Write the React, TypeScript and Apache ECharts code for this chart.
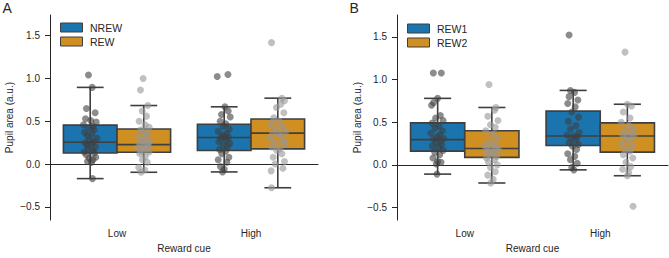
import React, { useEffect, useRef } from "react";
import * as echarts from "echarts";

// Reward cue levels on the x axis and the y tick values
const CATEGORIES = ["Low", "High"];
const Y_TICKS = [-0.5, 0, 0.5, 1, 1.5];

// Box statistics per cue level: [whisker low, Q1, median, Q3, whisker high]
const nrewBox = [
  [-0.17, 0.13, 0.254, 0.455, 0.896],
  [-0.092, 0.158, 0.31, 0.465, 0.669],
];
const rewBox = [
  [-0.096, 0.138, 0.227, 0.41, 0.684],
  [-0.277, 0.177, 0.361, 0.527, 0.77],
];
const rew1Box = [
  [-0.108, 0.161, 0.296, 0.492, 0.78],
  [-0.058, 0.227, 0.338, 0.63, 0.873],
];
const rew2Box = [
  [-0.212, 0.088, 0.192, 0.4, 0.673],
  [-0.127, 0.15, 0.338, 0.492, 0.711],
];

// Individual subjects: [strip jitter (fraction of band), pupil area]
const nrewLow = [
  [-0.013, 1.04], [0.015, 0.896], [-0.028, 0.65], [0.037, 0.6], [-0.035, 0.53], [0.004, 0.51],
  [0.045, 0.49], [-0.05, 0.46], [0.02, 0.44], [-0.01, 0.42], [0.03, 0.4], [-0.042, 0.37],
  [0.012, 0.35], [-0.02, 0.33], [0.05, 0.3], [-0.006, 0.28], [0.026, 0.26], [-0.038, 0.25],
  [0.008, 0.24], [-0.024, 0.22], [0.04, 0.2], [-0.015, 0.18], [0.018, 0.16], [-0.045, 0.14],
  [0.03, 0.13], [-0.03, 0.11], [0.042, 0.08], [-0.008, 0.07], [0.02, 0.05], [-0.02, 0.03],
  [0.01, 0.02], [0.017, -0.17],
];
const rewLow = [
  [-0.005, 1.0], [-0.025, 0.865], [0.03, 0.684], [-0.012, 0.62], [0.02, 0.56], [-0.035, 0.5],
  [0.01, 0.46], [0.04, 0.43], [-0.022, 0.4], [0.005, 0.38], [0.028, 0.35], [-0.04, 0.32],
  [0.015, 0.3], [-0.01, 0.28], [0.045, 0.26], [-0.03, 0.24], [0.022, 0.23], [-0.002, 0.22],
  [0.035, 0.2], [-0.045, 0.19], [0.01, 0.17], [-0.018, 0.15], [0.04, 0.14], [-0.03, 0.12],
  [0.012, 0.09], [-0.01, 0.05], [0.026, 0.02], [-0.038, -0.04], [0.008, -0.07], [-0.02, -0.096],
];
const nrewHigh = [
  [-0.052, 1.023], [0.028, 1.046], [0.005, 0.669], [0.03, 0.62], [-0.02, 0.58], [0.045, 0.55],
  [-0.03, 0.5], [0.012, 0.47], [-0.008, 0.44], [0.038, 0.41], [-0.045, 0.38], [0.02, 0.36],
  [-0.015, 0.34], [0.002, 0.32], [0.032, 0.31], [-0.026, 0.3], [0.015, 0.28], [-0.04, 0.26],
  [0.042, 0.24], [-0.005, 0.22], [0.025, 0.2], [-0.035, 0.17], [0.01, 0.15], [-0.018, 0.12],
  [0.035, 0.08], [-0.045, 0.05], [0.02, 0.02], [-0.028, -0.03], [0.0, -0.06], [-0.012, -0.092],
];
const rewHigh = [
  [-0.047, 1.419], [0.03, 0.77], [0.05, 0.74], [0.022, 0.7], [-0.01, 0.66], [0.045, 0.6],
  [-0.03, 0.54], [0.01, 0.5], [-0.055, 0.47], [0.035, 0.44], [-0.015, 0.41], [0.06, 0.38],
  [-0.04, 0.36], [0.005, 0.35], [0.025, 0.33], [-0.06, 0.3], [0.042, 0.27], [-0.022, 0.25],
  [0.055, 0.24], [-0.045, 0.2], [0.015, 0.18], [-0.008, 0.16], [0.03, 0.12], [-0.035, 0.08],
  [0.05, 0.03], [-0.02, 0.0], [0.038, -0.05], [-0.05, -0.08], [-0.047, -0.277],
];
const rew1Low = [
  [-0.032, 1.077], [0.027, 1.077], [0.0, 0.78], [-0.03, 0.73], [-0.045, 0.7], [0.02, 0.58],
  [-0.015, 0.55], [0.04, 0.52], [-0.04, 0.49], [0.01, 0.46], [-0.02, 0.43], [0.035, 0.4],
  [-0.05, 0.37], [0.015, 0.35], [-0.005, 0.33], [0.045, 0.31], [-0.03, 0.3], [0.02, 0.28],
  [-0.012, 0.26], [0.03, 0.24], [-0.04, 0.22], [0.008, 0.2], [0.04, 0.17], [-0.022, 0.15],
  [0.015, 0.12], [-0.035, 0.08], [0.0, 0.04], [0.025, 0.03], [-0.01, 0.01], [-0.005, -0.108],
];
const rew2Low = [
  [-0.021, 0.942], [0.03, 0.673], [0.02, 0.64], [-0.03, 0.57], [0.045, 0.52], [-0.01, 0.47],
  [0.025, 0.44], [-0.045, 0.4], [0.01, 0.36], [0.04, 0.31], [-0.02, 0.27], [0.015, 0.24],
  [-0.05, 0.22], [0.03, 0.2], [-0.005, 0.19], [0.05, 0.18], [-0.035, 0.16], [0.008, 0.14],
  [-0.018, 0.12], [0.035, 0.1], [-0.04, 0.08], [0.02, 0.06], [-0.025, 0.03], [0.04, 0.0],
  [-0.01, -0.03], [0.025, -0.08], [-0.03, -0.12], [0.01, -0.17], [-0.008, -0.212],
];
const rew1High = [
  [-0.03, 1.523], [-0.02, 0.873], [0.01, 0.85], [-0.03, 0.8], [0.035, 0.76], [-0.04, 0.72],
  [0.015, 0.68], [-0.01, 0.62], [0.04, 0.56], [-0.035, 0.51], [0.02, 0.46], [-0.02, 0.42],
  [0.045, 0.38], [-0.045, 0.35], [0.005, 0.34], [0.03, 0.33], [-0.015, 0.31], [0.02, 0.29],
  [-0.03, 0.26], [0.04, 0.24], [-0.005, 0.22], [0.025, 0.18], [-0.04, 0.13], [0.012, 0.1],
  [-0.02, 0.06], [0.03, 0.02], [-0.01, -0.03], [0.005, -0.058],
];
const rew2High = [
  [-0.017, 1.322], [0.0, 0.711], [0.03, 0.69], [-0.03, 0.62], [0.02, 0.55], [-0.045, 0.5],
  [0.01, 0.46], [0.045, 0.42], [-0.02, 0.39], [0.03, 0.37], [-0.035, 0.35], [0.05, 0.34],
  [-0.005, 0.32], [0.015, 0.29], [-0.04, 0.25], [0.035, 0.22], [-0.015, 0.18], [0.02, 0.16],
  [-0.03, 0.12], [0.04, 0.08], [-0.01, 0.03], [0.025, -0.02], [-0.035, -0.05], [0.01, -0.09],
  [0.0, -0.127], [0.042, -0.485],
];

const FONT = "'Liberation Sans', Arial, Helvetica, sans-serif";
const INK = "#262626";
const EDGE = "#3f3f3f";
const BLUE = "#1b74ad";
const ORANGE = "#cf9021";
const DOT_DARK = "rgba(64,64,64,0.6)";
const DOT_LIGHT = "rgba(150,150,150,0.6)";

const boxRenderer = (offset: number) => (params: any, api: any) => {
  const cat = api.value(0);
  const band = api.size([1, 0])[0];
  const cx = api.coord([cat, 0])[0] + offset * band;
  const half = 0.2 * band;
  const cap = 0.1 * band;
  const y = (i: number) => api.coord([cat, api.value(i)])[1];
  const yMin = y(1), yQ1 = y(2), yMed = y(3), yQ3 = y(4), yMax = y(5);
  const lineStyle = { stroke: EDGE, lineWidth: 1.6 };
  return {
    type: "group",
    children: [
      { type: "line", shape: { x1: cx, y1: yQ3, x2: cx, y2: yMax }, style: lineStyle },
      { type: "line", shape: { x1: cx, y1: yQ1, x2: cx, y2: yMin }, style: lineStyle },
      { type: "line", shape: { x1: cx - cap, y1: yMax, x2: cx + cap, y2: yMax }, style: lineStyle },
      { type: "line", shape: { x1: cx - cap, y1: yMin, x2: cx + cap, y2: yMin }, style: lineStyle },
      {
        type: "rect",
        shape: { x: cx - half, y: yQ3, width: 2 * half, height: yQ1 - yQ3 },
        style: { fill: api.visual("color"), stroke: EDGE, lineWidth: 1.6 },
      },
      { type: "line", shape: { x1: cx - half, y1: yMed, x2: cx + half, y2: yMed }, style: lineStyle },
    ],
  };
};

const dotRenderer = (offset: number, fill: string) => (params: any, api: any) => {
  const cat = api.value(0);
  const band = api.size([1, 0])[0];
  const p = api.coord([cat, api.value(2)]);
  return {
    type: "circle",
    shape: { cx: p[0] + (offset + api.value(1)) * band, cy: p[1], r: 3.5 },
    style: { fill },
  };
};

const boxData = (stats: number[][]) => stats.map((s, i) => [i, ...s]);
const dotData = (low: number[][], high: number[][]) => [
  ...low.map((d) => [0, d[0], d[1]]),
  ...high.map((d) => [1, d[0], d[1]]),
];

const xAxisFor = (gridIndex: number) => ({
  type: "category",
  gridIndex,
  data: CATEGORIES,
  boundaryGap: true,
  name: "Reward cue",
  nameLocation: "middle",
  nameGap: 22,
  nameTextStyle: { fontSize: 10, color: INK, fontFamily: FONT },
  axisLine: { lineStyle: { color: INK, width: 1 } },
  axisTick: { alignWithLabel: true, length: 5, lineStyle: { color: INK } },
  axisLabel: { fontSize: 10, color: INK, fontFamily: FONT, margin: 8 },
  splitLine: { show: false },
});

const yAxisFor = (gridIndex: number, min: number, max: number, nameGap: number) => ({
  type: "value",
  gridIndex,
  min,
  max,
  name: "Pupil area (a.u.)",
  nameLocation: "middle",
  nameRotate: 90,
  nameGap,
  nameTextStyle: { fontSize: 10, color: INK, fontFamily: FONT },
  axisLine: { show: true, lineStyle: { color: INK, width: 1 } },
  axisTick: { show: true, length: 5, lineStyle: { color: INK }, customValues: Y_TICKS },
  axisLabel: {
    fontSize: 10,
    color: INK,
    fontFamily: FONT,
    margin: 10,
    customValues: Y_TICKS,
    formatter: (v: number) => v.toFixed(1).replace("-", "\u2212"),
  },
  splitLine: { show: false },
});

const legendFor = (names: string[], left: number, top: number) => ({
  data: names,
  left,
  top,
  padding: 0,
  orient: "vertical",
  icon: "rect",
  itemWidth: 22,
  itemHeight: 9,
  itemGap: 3,
  selectedMode: false,
  itemStyle: { borderColor: EDGE, borderWidth: 1 },
  formatter: (n: string) => `{t|${n}}`,
  textStyle: {
    fontSize: 10.5,
    color: INK,
    fontFamily: FONT,
    rich: { t: { fontSize: 10.5, color: INK, fontFamily: FONT, padding: [0, 0, 0, 2.5] } },
  },
});

export default function App() {
  const ref = useRef<HTMLDivElement>(null);

  useEffect(() => {
    if (!ref.current) return;
    const chart = echarts.init(ref.current, null, { renderer: "svg" });
    const boxSeries = (name: string, idx: number, stats: number[][], offset: number, color: string) => ({
      type: "custom",
      name,
      xAxisIndex: idx,
      yAxisIndex: idx,
      z: 2,
      itemStyle: { color },
      encode: { x: 0, y: [1, 2, 3, 4, 5] },
      data: boxData(stats),
      renderItem: boxRenderer(offset),
    });
    const dotSeries = (name: string, idx: number, low: number[][], high: number[][], offset: number, fill: string) => ({
      type: "custom",
      name,
      xAxisIndex: idx,
      yAxisIndex: idx,
      z: 3,
      encode: { x: 0, y: 2 },
      data: dotData(low, high),
      renderItem: dotRenderer(offset, fill),
    });

    chart.setOption({
      animation: false,
      textStyle: { fontFamily: FONT },
      grid: [
        { left: 50, top: 15, width: 268, height: 207.7 },
        { left: 397, top: 15, width: 271, height: 208.3 },
      ],
      xAxis: [xAxisFor(0), xAxisFor(1)],
      yAxis: [yAxisFor(0, -0.655, 1.742, 36), yAxisFor(1, -0.647, 1.757, 35)],
      legend: [legendFor(["NREW", "REW"], 60, 22), legendFor(["REW1", "REW2"], 407, 23)],
      graphic: [
        { type: "text", left: 2.5, top: 1, style: { text: "A", fontSize: 14, fill: INK, fontFamily: FONT } },
        { type: "text", left: 349.5, top: 1, style: { text: "B", fontSize: 14, fill: INK, fontFamily: FONT } },
      ],
      series: [
        boxSeries("NREW", 0, nrewBox, -0.2, BLUE),
        boxSeries("REW", 0, rewBox, 0.2, ORANGE),
        dotSeries("NREW subjects", 0, nrewLow, nrewHigh, -0.2, DOT_DARK),
        dotSeries("REW subjects", 0, rewLow, rewHigh, 0.2, DOT_LIGHT),
        boxSeries("REW1", 1, rew1Box, -0.2, BLUE),
        boxSeries("REW2", 1, rew2Box, 0.2, ORANGE),
        dotSeries("REW1 subjects", 1, rew1Low, rew1High, -0.2, DOT_DARK),
        dotSeries("REW2 subjects", 1, rew2Low, rew2High, 0.2, DOT_LIGHT),
      ],
    });
    return () => chart.dispose();
  }, []);

  return (
    <div
      ref={ref}
      style={{ position: "absolute", left: 0, top: 0, width: 669, height: 258, background: "#ffffff" }}
    />
  );
}
